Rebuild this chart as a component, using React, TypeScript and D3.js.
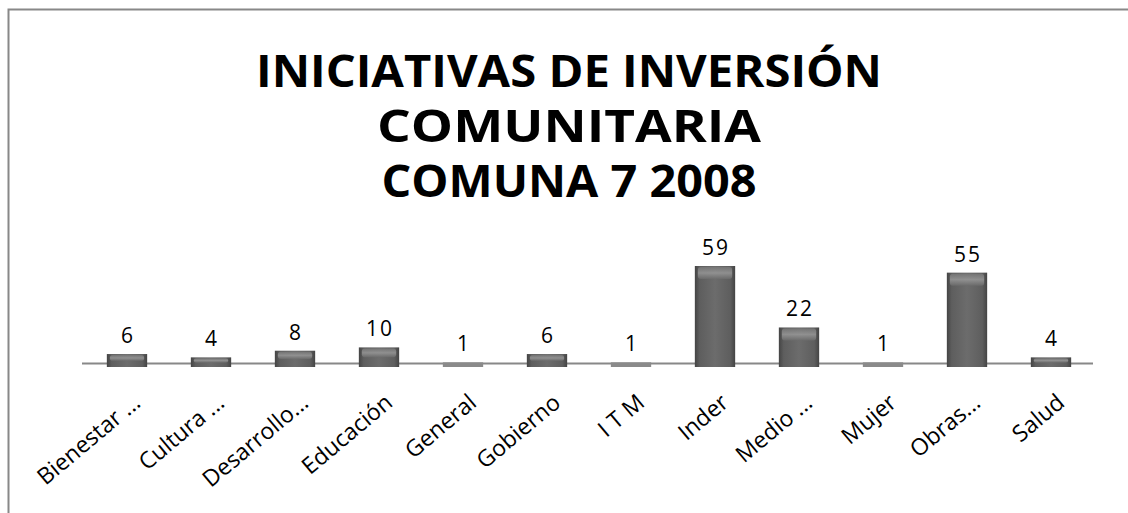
import React from "react";
import * as d3 from "d3";

const categories = ["Bienestar ...", "Cultura ...", "Desarrollo...", "Educación", "General", "Gobierno", "I T M", "Inder", "Medio ...", "Mujer", "Obras...", "Salud"];
const values = [6, 4, 8, 10, 1, 6, 1, 59, 22, 1, 55, 4];
const titleLines = ["INICIATIVAS DE INVERSIÓN", "COMUNITARIA", "COMUNA 7 2008"];
const titleWidths = [626, 384, 375];

const W = 1128;
const H = 513;
const FONT = "'Open Sans', 'DejaVu Sans', sans-serif";

export default function App() {
  const x = d3.scaleBand<string>().domain(categories).range([85, 1093]).paddingInner(0.52).paddingOuter(0.26);
  const y = d3.scaleLinear().domain([0, 59]).range([364, 266]);
  const bw = x.bandwidth();
  return (
    <svg width={W} height={H} style={{ position: "absolute", left: 0, top: 0, display: "block", background: "#fff" }}>
      <defs>
        <linearGradient id="barH" x1="0" x2="1" y1="0" y2="0">
          <stop offset="0" stopColor="#444" />
          <stop offset="0.12" stopColor="#5e5e5e" />
          <stop offset="0.5" stopColor="#6c6c6c" />
          <stop offset="0.88" stopColor="#5e5e5e" />
          <stop offset="1" stopColor="#444" />
        </linearGradient>
        <linearGradient id="barTop" x1="0" x2="0" y1="0" y2="1">
          <stop offset="0" stopColor="#777" />
          <stop offset="0.5" stopColor="#9a9a9a" />
          <stop offset="1" stopColor="#6c6c6c" />
        </linearGradient>
      </defs>
      <rect x={8.5} y={9.5} width={1130} height={520} fill="none" stroke="#888" strokeWidth={2} />
      {titleLines.map((t, i) => (
        <text
          key={t}
          x={569}
          y={87 + i * 55}
          textAnchor="middle"
          fontFamily={FONT}
          fontWeight="bold"
          fontSize={44}
          textLength={titleWidths[i]}
          lengthAdjust="spacingAndGlyphs"
          fill="#000"
        >
          {t}
        </text>
      ))}
      <line x1={82} x2={1093} y1={363.5} y2={363.5} stroke="#888" strokeWidth={2} />
      {categories.map((c, i) => {
        const v = values[i];
        const bx = x(c)!;
        const top = y(v);
        const h = 367 - top;
        const cap = Math.min(12, h * 0.45);
        return (
          <g key={c}>
            <rect x={bx} y={top} width={bw} height={h} fill={v <= 1 ? "#8a8a8a" : "url(#barH)"} />
            {v > 1 && (
              <rect x={bx + 3} y={top + 1} width={bw - 6} height={cap} rx={3} fill="url(#barTop)" opacity={0.8} />
            )}
            <text x={bx + bw / 2 + 1} y={top - 11} textAnchor="middle" fontFamily={FONT} fontSize={21} letterSpacing={2} fill="#000">
              {v}
            </text>
            <text
              transform={`translate(${bx + bw / 2 + 15},${405}) rotate(-40)`}
              textAnchor="end"
              fontFamily={FONT}
              fontSize={23}
              fill="#000"
            >
              {c}
            </text>
          </g>
        );
      })}
    </svg>
  );
}
